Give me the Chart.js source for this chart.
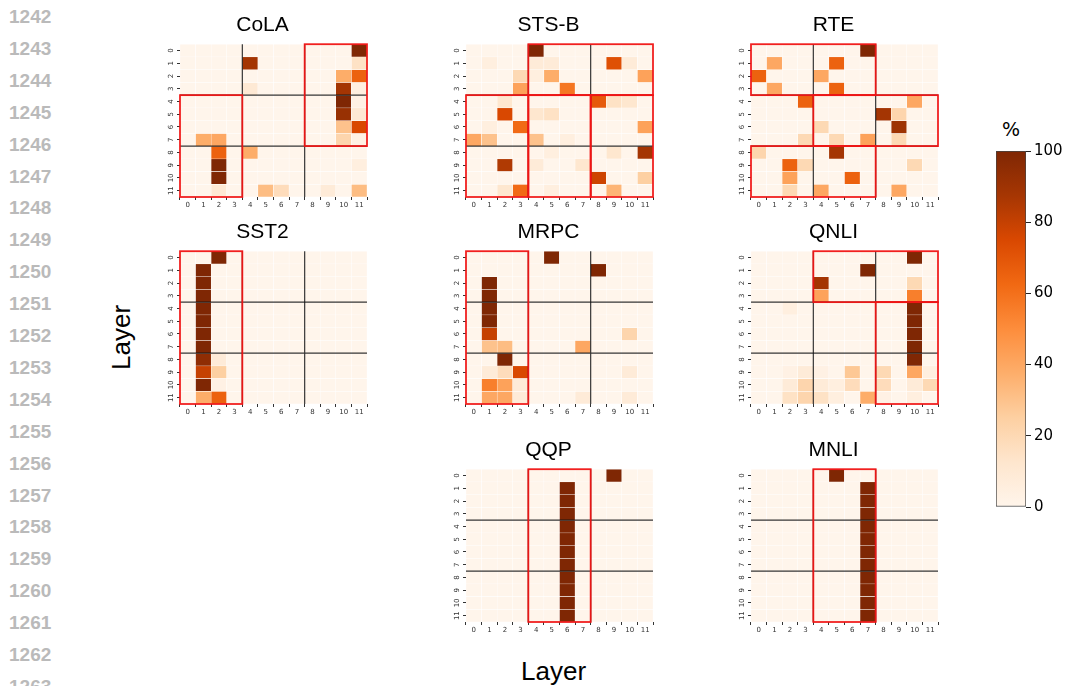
<!DOCTYPE html>
<html>
<head>
<meta charset="utf-8">
<script src="https://cdn.jsdelivr.net/npm/chart.js@4.4.1/dist/chart.umd.min.js"></script>
<style>
  body { margin: 0; background: #fff; width: 1068px; height: 686px; overflow: hidden; position: relative; font-family: 'Liberation Sans', Arial, sans-serif; }
  canvas { position: absolute; }
  .ln { position: absolute; left: 9px; width: 52px; font-weight: bold; font-size: 19px; line-height: 20px; color: #bababa; }
  .lbl { position: absolute; font-size: 26px; color: #000; white-space: nowrap; }
</style>
</head>
<body>
<div id="lines"></div>
<div class="lbl" style="left:521px; top:656px;">Layer</div>
<div class="lbl" style="left:88px; top:322px; transform: rotate(-90deg); transform-origin: 33px 15px;">Layer</div>
<div class="lbl" style="left:1002px; top:118px; font-size:19px; font-family:'DejaVu Sans', sans-serif;">%</div>
<canvas id="cola" width="213" height="206"></canvas>
<canvas id="stsb" width="213" height="206"></canvas>
<canvas id="rte" width="213" height="206"></canvas>
<canvas id="sst2" width="213" height="206"></canvas>
<canvas id="mrpc" width="213" height="206"></canvas>
<canvas id="qnli" width="213" height="206"></canvas>
<canvas id="qqp" width="213" height="206"></canvas>
<canvas id="mnli" width="213" height="206"></canvas>
<canvas id="cbar" width="74" height="380"></canvas>
<script>
// layer indices (both axes)
const layers = ['0', '1', '2', '3', '4', '5', '6', '7', '8', '9', '10', '11'];
const layerIdx = [0, 1, 2, 3, 4, 5, 6, 7, 8, 9, 10, 11];
// boundaries between layer groups
const groupSplits = [3.5, 7.5];
const colorbarTicks = [0, 20, 40, 60, 80, 100];
const lineNumbers = [1242, 1243, 1244, 1245, 1246, 1247, 1248, 1249, 1250, 1251, 1252,
                     1253, 1254, 1255, 1256, 1257, 1258, 1259, 1260, 1261, 1262, 1263];

// % per cell, rows = layer on y, columns = layer on x
const colaValues = [
  [0, 0, 0, 0, 0, 0, 0, 0, 0, 0, 0, 100],
  [0, 0, 0, 0, 88, 0, 0, 0, 0, 0, 0, 15],
  [0, 0, 0, 0, 0, 0, 0, 0, 0, 0, 38, 65],
  [0, 0, 0, 0, 10, 0, 0, 0, 0, 0, 88, 5],
  [0, 0, 0, 0, 0, 0, 0, 0, 0, 0, 100, 3],
  [0, 0, 0, 0, 0, 0, 0, 0, 0, 0, 92, 10],
  [0, 0, 0, 0, 0, 0, 0, 0, 0, 0, 30, 75],
  [0, 38, 40, 0, 0, 0, 0, 0, 0, 0, 22, 3],
  [0, 0, 65, 0, 38, 0, 0, 0, 0, 0, 0, 0],
  [0, 0, 100, 0, 0, 0, 0, 0, 0, 0, 0, 5],
  [0, 0, 100, 0, 0, 0, 0, 0, 0, 0, 0, 0],
  [0, 0, 10, 0, 0, 32, 18, 0, 0, 8, 0, 32]
];
const stsbValues = [
  [0, 0, 0, 0, 100, 0, 0, 0, 0, 0, 0, 0],
  [0, 5, 0, 0, 8, 8, 0, 0, 0, 72, 8, 0],
  [0, 0, 0, 20, 5, 38, 0, 0, 0, 0, 0, 42],
  [0, 0, 0, 42, 0, 0, 58, 0, 0, 0, 0, 0],
  [0, 0, 12, 0, 0, 0, 0, 0, 68, 15, 12, 0],
  [0, 0, 75, 0, 12, 15, 0, 0, 0, 0, 0, 0],
  [0, 5, 0, 62, 0, 0, 0, 0, 0, 0, 0, 42],
  [40, 30, 0, 0, 30, 0, 5, 0, 0, 0, 0, 0],
  [0, 0, 0, 0, 0, 5, 0, 0, 0, 12, 0, 88],
  [0, 0, 85, 0, 8, 0, 0, 12, 0, 0, 0, 0],
  [0, 0, 0, 0, 0, 0, 0, 0, 78, 0, 0, 25],
  [0, 0, 12, 62, 0, 5, 0, 0, 0, 35, 0, 0]
];
const rteValues = [
  [0, 0, 0, 0, 0, 0, 0, 100, 0, 0, 0, 0],
  [0, 40, 0, 0, 0, 65, 0, 0, 0, 0, 0, 0],
  [65, 0, 0, 0, 40, 0, 0, 0, 0, 0, 0, 0],
  [0, 40, 0, 0, 0, 65, 0, 0, 0, 0, 0, 0],
  [0, 0, 0, 65, 0, 0, 0, 0, 0, 0, 40, 0],
  [0, 0, 0, 0, 0, 0, 0, 0, 88, 22, 0, 0],
  [0, 0, 0, 0, 20, 0, 0, 0, 0, 90, 0, 0],
  [0, 0, 0, 20, 0, 20, 0, 42, 0, 20, 0, 0],
  [22, 0, 0, 0, 0, 88, 0, 0, 0, 0, 0, 0],
  [0, 0, 65, 20, 0, 0, 0, 0, 0, 0, 20, 0],
  [0, 0, 42, 0, 0, 0, 65, 0, 0, 0, 0, 0],
  [0, 0, 20, 0, 40, 0, 0, 0, 0, 40, 0, 0]
];
const sst2Values = [
  [0, 0, 100, 0, 0, 0, 0, 0, 0, 0, 0, 0],
  [0, 100, 0, 0, 0, 0, 0, 0, 0, 0, 0, 0],
  [0, 100, 0, 0, 0, 0, 0, 0, 0, 0, 0, 0],
  [0, 100, 0, 0, 0, 0, 0, 0, 0, 0, 0, 0],
  [0, 100, 0, 0, 0, 0, 0, 0, 0, 0, 0, 0],
  [0, 100, 0, 0, 0, 0, 0, 0, 0, 0, 0, 0],
  [0, 100, 0, 0, 0, 0, 0, 0, 0, 0, 0, 0],
  [0, 100, 0, 0, 0, 0, 0, 0, 0, 0, 0, 0],
  [0, 95, 8, 0, 0, 0, 0, 0, 0, 0, 0, 0],
  [0, 80, 25, 0, 0, 0, 0, 0, 0, 0, 0, 0],
  [0, 100, 3, 0, 0, 0, 0, 0, 0, 0, 0, 0],
  [0, 38, 65, 0, 0, 0, 0, 0, 0, 0, 0, 0]
];
const mrpcValues = [
  [0, 0, 0, 0, 0, 100, 0, 0, 0, 0, 0, 0],
  [0, 0, 0, 0, 0, 0, 0, 0, 100, 0, 0, 0],
  [0, 100, 0, 0, 0, 0, 0, 0, 0, 0, 0, 0],
  [0, 100, 0, 0, 0, 0, 0, 0, 0, 0, 0, 0],
  [0, 100, 0, 0, 0, 0, 0, 0, 0, 0, 0, 0],
  [0, 100, 0, 0, 0, 0, 0, 0, 0, 0, 0, 0],
  [0, 80, 0, 0, 0, 0, 0, 0, 0, 0, 22, 0],
  [0, 30, 32, 0, 0, 0, 0, 40, 0, 0, 0, 0],
  [0, 0, 100, 0, 0, 0, 0, 0, 0, 0, 0, 0],
  [0, 8, 18, 75, 0, 0, 0, 0, 0, 0, 8, 0],
  [0, 55, 42, 8, 0, 0, 0, 0, 0, 0, 0, 0],
  [0, 40, 40, 8, 0, 0, 0, 8, 0, 0, 8, 0]
];
const qnliValues = [
  [0, 0, 0, 0, 0, 0, 0, 0, 0, 0, 100, 0],
  [0, 0, 0, 0, 0, 0, 0, 100, 0, 0, 0, 0],
  [0, 0, 0, 0, 88, 0, 0, 0, 0, 0, 20, 0],
  [0, 0, 0, 0, 42, 0, 0, 0, 0, 0, 55, 0],
  [0, 0, 5, 0, 0, 0, 0, 0, 0, 0, 100, 0],
  [0, 0, 0, 0, 0, 0, 0, 0, 0, 0, 100, 0],
  [0, 0, 0, 0, 0, 0, 0, 0, 0, 0, 100, 0],
  [0, 0, 0, 0, 0, 0, 0, 0, 0, 0, 100, 0],
  [0, 0, 0, 0, 0, 0, 0, 0, 0, 0, 100, 0],
  [0, 0, 3, 8, 3, 0, 28, 0, 20, 0, 40, 5],
  [0, 0, 8, 22, 8, 5, 18, 0, 18, 0, 8, 20],
  [0, 0, 15, 22, 15, 5, 0, 38, 3, 0, 5, 0]
];
const qqpValues = [
  [0, 0, 0, 0, 0, 0, 0, 0, 0, 100, 0, 0],
  [0, 0, 0, 0, 0, 0, 100, 0, 0, 0, 0, 0],
  [0, 0, 0, 0, 0, 0, 100, 0, 0, 0, 0, 0],
  [0, 0, 0, 0, 0, 0, 100, 0, 0, 0, 0, 0],
  [0, 0, 0, 0, 0, 0, 100, 0, 0, 0, 0, 0],
  [0, 0, 0, 0, 0, 0, 100, 0, 0, 0, 0, 0],
  [0, 0, 0, 0, 0, 0, 100, 0, 0, 0, 0, 0],
  [0, 0, 0, 0, 0, 0, 100, 0, 0, 0, 0, 0],
  [0, 0, 0, 0, 0, 0, 100, 0, 0, 0, 0, 0],
  [0, 0, 0, 0, 0, 0, 100, 0, 0, 0, 0, 0],
  [0, 0, 0, 0, 0, 0, 100, 0, 0, 0, 0, 0],
  [0, 0, 0, 0, 0, 0, 100, 0, 0, 0, 0, 0]
];
const mnliValues = [
  [0, 0, 0, 0, 0, 100, 0, 0, 0, 0, 0, 0],
  [0, 0, 0, 0, 0, 0, 0, 100, 0, 0, 0, 0],
  [0, 0, 0, 0, 0, 0, 0, 100, 0, 0, 0, 0],
  [0, 0, 0, 0, 0, 0, 0, 100, 0, 0, 0, 0],
  [0, 0, 0, 0, 0, 0, 0, 100, 0, 0, 0, 0],
  [0, 0, 0, 0, 0, 0, 0, 100, 0, 0, 0, 0],
  [0, 0, 0, 0, 0, 0, 0, 100, 0, 0, 0, 0],
  [0, 0, 0, 0, 0, 0, 0, 100, 0, 0, 0, 0],
  [0, 0, 0, 0, 0, 0, 0, 100, 0, 0, 0, 0],
  [0, 0, 0, 0, 0, 0, 0, 100, 0, 0, 0, 0],
  [0, 0, 0, 0, 0, 0, 0, 100, 0, 0, 0, 0],
  [0, 0, 0, 0, 0, 0, 0, 100, 0, 0, 0, 0]
];

// red boxes: [first col, last col, first row, last row]
const colaBoxes = [[8, 11, 0, 7], [0, 3, 4, 11]];
const stsbBoxes = [[4, 11, 0, 3], [0, 3, 4, 11], [4, 7, 4, 11], [8, 11, 4, 11]];
const rteBoxes = [[0, 7, 0, 3], [4, 11, 4, 7], [0, 7, 8, 11]];
const sst2Boxes = [[0, 3, 0, 11]];
const mrpcBoxes = [[0, 3, 0, 11]];
const qnliBoxes = [[4, 11, 0, 3], [8, 11, 4, 11]];
const qqpBoxes = [[4, 7, 0, 11]];
const mnliBoxes = [[4, 7, 0, 11]];

// matplotlib "Oranges"
const oranges = ['#fff5eb', '#fee6ce', '#fdd0a2', '#fdae6b', '#fd8d3c', '#f16913', '#d94801', '#a63603', '#7f2704'];

function hexRgb(h) {
  return [parseInt(h.slice(1, 3), 16), parseInt(h.slice(3, 5), 16), parseInt(h.slice(5, 7), 16)];
}

function orangeOf(v) {
  const t = Math.max(0, Math.min(1, v / 100)) * (oranges.length - 1);
  const i = Math.min(Math.floor(t), oranges.length - 2);
  const f = t - i;
  const a = hexRgb(oranges[i]), b = hexRgb(oranges[i + 1]);
  const c = a.map((x, k) => Math.round(x + (b[k] - x) * f));
  return 'rgb(' + c.join(',') + ')';
}

Chart.defaults.font.family = "'DejaVu Sans', sans-serif";
Chart.defaults.color = '#333';

const overlayPlugin = {
  id: 'overlay',
  afterDatasetsDraw(chart, args, opts) {
    const { ctx, chartArea: a, scales: { x, y } } = chart;
    ctx.save();
    // group separators
    ctx.strokeStyle = 'rgba(20,20,20,0.85)';
    ctx.lineWidth = 1.2;
    groupSplits.forEach(s => {
      const px = x.getPixelForValue(s);
      const py = y.getPixelForValue(s);
      ctx.beginPath();
      ctx.moveTo(px, a.top); ctx.lineTo(px, a.bottom);
      ctx.moveTo(a.left, py); ctx.lineTo(a.right, py);
      ctx.stroke();
    });
    // red boxes
    ctx.strokeStyle = 'rgba(240,20,20,0.95)';
    ctx.lineWidth = 1.8;
    (opts.boxes || []).forEach(b => {
      const x0 = x.getPixelForValue(b[0] - 0.5), x1 = x.getPixelForValue(b[1] + 0.5);
      const y0 = y.getPixelForValue(b[2] - 0.5), y1 = y.getPixelForValue(b[3] + 0.5);
      ctx.strokeRect(x0, y0, x1 - x0, y1 - y0);
    });
    ctx.restore();
  }
};

const panels = [
  { id: 'cola', title: 'CoLA', values: colaValues, boxes: colaBoxes, left: 180, top: 44 },
  { id: 'stsb', title: 'STS-B', values: stsbValues, boxes: stsbBoxes, left: 466, top: 44 },
  { id: 'rte', title: 'RTE', values: rteValues, boxes: rteBoxes, left: 751, top: 44 },
  { id: 'sst2', title: 'SST2', values: sst2Values, boxes: sst2Boxes, left: 180, top: 251 },
  { id: 'mrpc', title: 'MRPC', values: mrpcValues, boxes: mrpcBoxes, left: 466, top: 251 },
  { id: 'qnli', title: 'QNLI', values: qnliValues, boxes: qnliBoxes, left: 751, top: 251 },
  { id: 'qqp', title: 'QQP', values: qqpValues, boxes: qqpBoxes, left: 466, top: 469 },
  { id: 'mnli', title: 'MNLI', values: mnliValues, boxes: mnliBoxes, left: 751, top: 469 }
];

panels.forEach(p => {
  const el = document.getElementById(p.id);
  el.style.left = (p.left - 22) + 'px';
  el.style.top = (p.top - 35) + 'px';

  const datasets = layerIdx.map(r => ({
    data: layerIdx.map(() => [r - 0.5, r + 0.5]),
    backgroundColor: p.values[r].map(orangeOf),
    borderColor: '#ffffff',
    borderWidth: 0.5,
    borderSkipped: false,
    grouped: false,
    barPercentage: 1,
    categoryPercentage: 1
  }));

  new Chart(el, {
    type: 'bar',
    data: { labels: layers, datasets: datasets },
    options: {
      responsive: false,
      animation: false,
      layout: { padding: { left: 0, right: 4, top: 0, bottom: 0 } },
      plugins: {
        legend: { display: false },
        tooltip: { enabled: false },
        title: {
          display: true,
          text: p.title,
          color: '#000',
          font: { family: "'Liberation Sans', Arial, sans-serif", size: 21, weight: 'normal' },
          padding: { top: 4, bottom: 6 }
        },
        overlay: { boxes: p.boxes }
      },
      scales: {
        x: {
          ticks: { font: { size: 7 }, color: '#333', padding: 1, autoSkip: false, maxRotation: 0 },
          grid: { drawOnChartArea: false, drawTicks: true, tickLength: 3, color: '#333' },
          border: { display: false },
          afterFit: ax => { ax.height = 18; }
        },
        y: {
          type: 'linear',
          min: -0.5,
          max: 11.5,
          reverse: true,
          afterBuildTicks: ax => { ax.ticks = layerIdx.map(v => ({ value: v })); },
          ticks: { font: { size: 7 }, color: '#333', padding: 1, autoSkip: false,
                   minRotation: 90, maxRotation: 90, crossAlign: 'center' },
          grid: { drawOnChartArea: false, drawTicks: true, tickLength: 3, color: '#333' },
          border: { display: false },
          afterFit: ax => { ax.width = 22; }
        }
      }
    },
    plugins: [overlayPlugin]
  });
});

// colour bar
const cb = document.getElementById('cbar');
cb.style.left = '996px';
cb.style.top = '139px';
new Chart(cb, {
  type: 'bar',
  data: {
    labels: ['%'],
    datasets: [{
      data: [[0, 100]],
      backgroundColor: c => {
        const a = c.chart.chartArea;
        if (!a) return oranges[0];
        const g = c.chart.ctx.createLinearGradient(0, a.bottom, 0, a.top);
        oranges.forEach((col, i) => g.addColorStop(i / (oranges.length - 1), col));
        return g;
      },
      borderColor: '#444',
      borderWidth: 1,
      borderSkipped: false,
      barPercentage: 1,
      categoryPercentage: 1
    }]
  },
  options: {
    responsive: false,
    animation: false,
    layout: { padding: { top: 12, bottom: 12, left: 0, right: 0 } },
    plugins: { legend: { display: false }, tooltip: { enabled: false } },
    scales: {
      x: { display: false },
      y: {
        position: 'right',
        min: 0,
        max: 100,
        afterBuildTicks: ax => { ax.ticks = colorbarTicks.map(v => ({ value: v })); },
        ticks: { font: { size: 15 }, color: '#000', padding: 3 },
        grid: { drawOnChartArea: false, drawTicks: true, tickLength: 5, color: '#222' },
        border: { display: false },
        afterFit: ax => { ax.width = 44; }
      }
    }
  }
});

// page line numbers on the left
const lineBox = document.getElementById('lines');
lineNumbers.forEach((n, i) => {
  const d = document.createElement('div');
  d.className = 'ln';
  d.textContent = n;
  d.style.top = (7 + i * 31.9) + 'px';
  lineBox.appendChild(d);
});
</script>
</body>
</html>
